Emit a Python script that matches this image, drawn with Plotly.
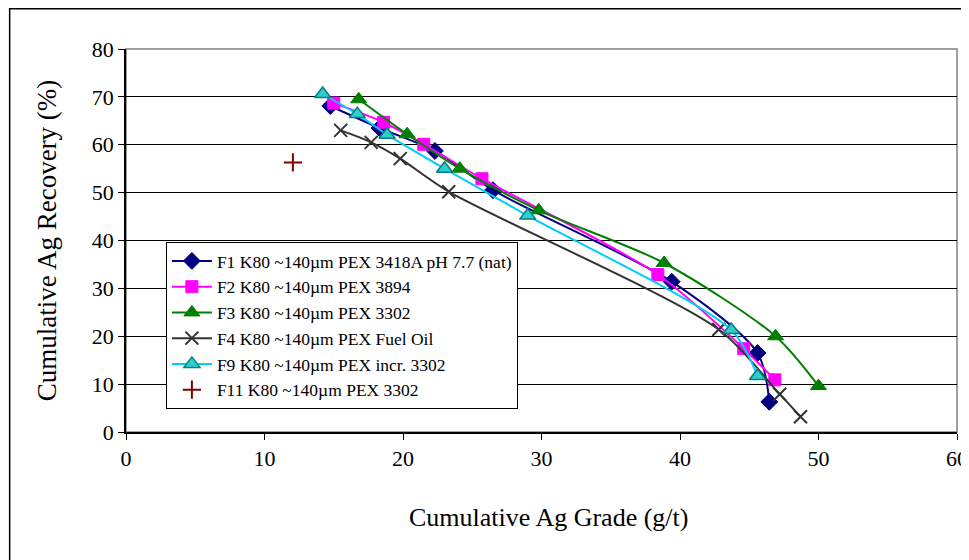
import plotly.graph_objects as go

# ---- data ----
f1_x = [14.75, 18.3, 22.3, 26.5, 39.4, 45.6, 46.45]
f1_y = [68.1, 63.5, 58.7, 50.5, 31.4, 16.5, 6.3]
f2_x = [15.0, 18.6, 21.5, 25.7, 38.4, 44.6, 46.85]
f2_y = [68.7, 64.7, 60.1, 52.9, 32.9, 17.4, 10.9]
f3_x = [16.8, 20.3, 24.1, 29.8, 38.85, 46.9, 50.0]
f3_y = [69.5, 62.2, 55.0, 46.3, 35.3, 20.0, 9.6]
f4_x = [15.5, 17.7, 19.8, 23.3, 42.8, 47.2, 48.7]
f4_y = [63.0, 60.5, 57.1, 50.2, 21.4, 7.9, 3.2]
f9_x = [14.2, 16.7, 18.85, 23.0, 29.0, 43.7, 45.6]
f9_y = [70.6, 66.4, 62.1, 55.0, 45.2, 21.3, 11.7]
f11_x = [12.05]
f11_y = [56.3]

names = [
    "F1 K80 ~140µm PEX 3418A pH 7.7 (nat)",
    "F2 K80 ~140µm PEX 3894",
    "F3 K80 ~140µm PEX 3302",
    "F4 K80 ~140µm PEX Fuel Oil",
    "F9 K80 ~140µm PEX incr. 3302",
    "F11 K80 ~140µm PEX 3302",
]
x_ticks = [0, 10, 20, 30, 40, 50, 60]
y_ticks = [0, 10, 20, 30, 40, 50, 60, 70, 80]
x_title = "Cumulative Ag Grade (g/t)"
y_title = "Cumulative Ag Recovery (%)"

FONT = "Liberation Serif"

fig = go.Figure()

def add_line(xs, ys, name, color, symbol, msize, mcolor, mline_color, mline_w=1):
    fig.add_trace(go.Scatter(
        x=xs, y=ys, name=name, mode="lines+markers",
        line=dict(color=color, width=2, shape="spline", smoothing=0.8),
        marker=dict(symbol=symbol, size=msize, color=mcolor,
                    line=dict(color=mline_color, width=mline_w)),
    ))

add_line(f1_x, f1_y, names[0], "#000080", "diamond", 13, "#000080", "#000080")
add_line(f2_x, f2_y, names[1], "#FF00FF", "square", 12, "#FF00FF", "#FF00FF")
add_line(f3_x, f3_y, names[2], "#008000", "triangle-up", 14, "#008000", "#008000")
add_line(f4_x, f4_y, names[3], "#333333", "x-thin", 13, "#333333", "#333333", 2)
add_line(f9_x, f9_y, names[4], "#00CCFF", "triangle-up", 14, "#33CCCC", "#008080", 1.5)
fig.add_trace(go.Scatter(
    x=f11_x, y=f11_y, name=names[5], mode="markers",
    marker=dict(symbol="cross-thin", size=13, color="#800000",
                line=dict(color="#800000", width=2)),
))

# plot-area border (grey top/right) and outer figure border
fig.add_shape(type="rect", xref="paper", yref="paper", x0=0, y0=0, x1=1, y1=1,
              line=dict(color="#808080", width=1.5), layer="below")
fig.add_shape(type="rect", xref="paper", yref="paper", x0=-0.140, y0=-0.4, x1=1.05, y1=1.105,
              line=dict(color="black", width=1.5), layer="below")

# x-axis title (placed as in the reference, slightly right of centre)
fig.add_annotation(text=x_title, xref="paper", yref="paper", x=0.509, y=-0.222,
                   xanchor="center", yanchor="middle", showarrow=False,
                   font=dict(family=FONT, size=26, color="black"))

fig.update_layout(
    width=969, height=560,
    margin=dict(l=118, r=20, t=41, b=136, autoexpand=False),
    paper_bgcolor="white", plot_bgcolor="white",
    font=dict(family=FONT, size=21, color="black"),
    showlegend=True,
    legend=dict(x=0.048, y=0.496, xanchor="left", yanchor="top",
                bgcolor="white", bordercolor="black", borderwidth=1,
                font=dict(family=FONT, size=17.5), tracegroupgap=0,
                itemwidth=40),
    xaxis=dict(range=[0, 60], tickvals=x_ticks, ticks="outside", ticklen=6,
               tickcolor="black", showline=True, linecolor="black", linewidth=1.5,
               showgrid=False, zeroline=False, fixedrange=True, automargin=False,
               tickfont=dict(size=22)),
    yaxis=dict(range=[0, 80], tickvals=y_ticks, ticks="outside", ticklen=6,
               tickcolor="black", showline=True, linecolor="black", linewidth=1.5,
               showgrid=True, gridcolor="black", gridwidth=1, zeroline=False,
               fixedrange=True, automargin=False,
               title=dict(text=y_title, font=dict(size=27), standoff=27),
               tickfont=dict(size=22)),
)

fig.write_html("out.html")
